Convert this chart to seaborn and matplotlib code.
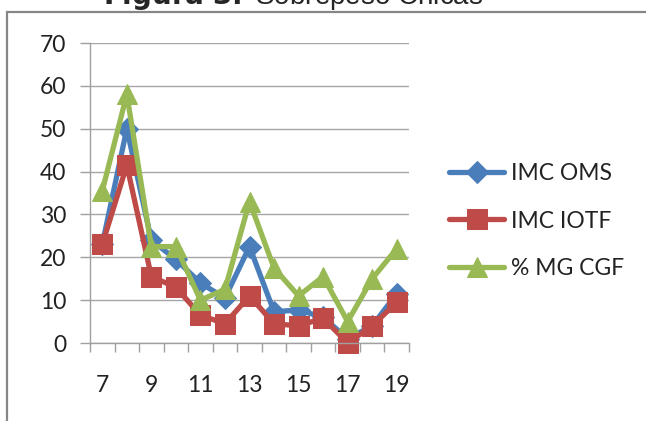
import matplotlib
matplotlib.use("Agg")
import matplotlib.pyplot as plt
import matplotlib.patches as mpatches
from matplotlib.ticker import FixedLocator, MultipleLocator
import pandas as pd
import seaborn as sns

# Data
ages = [7, 8, 9, 10, 11, 12, 13, 14, 15, 16, 17, 18, 19]
imc_oms = [23, 50, 24, 19.5, 14, 10.5, 22.5, 7.3, 7.7, 6, 1, 4, 11.5]
imc_iotf = [23, 41.5, 15.5, 13, 6.5, 4.5, 11, 4.5, 4, 5.8, 0, 4, 9.5]
mg_cgf = [35.5, 58, 22.5, 22.5, 10, 12.5, 33, 17.5, 11, 15.5, 5, 15, 22]
series_names = ["IMC OMS", "IMC IOTF", "% MG CGF"]
xtick_labels = ["7", "9", "11", "13", "15", "17", "19"]

colors = ["#4A7EBB", "#BE4B48", "#98B954"]
markers = ["D", "s", "^"]
marker_sizes = [11, 14, 15]

sns.set_style("white")
plt.rcParams['font.family'] = ['Lato', 'DejaVu Sans']

df = pd.DataFrame({"age": ages, series_names[0]: imc_oms,
                   series_names[1]: imc_iotf, series_names[2]: mg_cgf})

fig = plt.figure(figsize=(6.46, 4.21), dpi=100)
ax = fig.add_axes([90 / 646, 1 - 343 / 421, 319 / 646, 300 / 421])

for name, col, mk, ms in zip(series_names, colors, markers, marker_sizes):
    sns.lineplot(data=df, x="age", y=name, ax=ax, color=col, linewidth=3.8,
                 marker=mk, markersize=ms, markeredgecolor=col, label=name,
                 clip_on=False)

# Axis limits and ticks (category style axis)
ax.set_xlim(6.5, 19.5)
ax.set_ylim(0, 70)
ax.yaxis.set_major_locator(MultipleLocator(10))
ax.xaxis.set_major_locator(FixedLocator([int(t) for t in xtick_labels]))
ax.set_xticklabels(xtick_labels)
ax.xaxis.set_minor_locator(FixedLocator([a + 0.5 for a in [6] + ages]))
ax.set_xlabel("")
ax.set_ylabel("")

ax.grid(axis="y", color="#A6A6A6", linewidth=1.0)
ax.set_axisbelow(True)
for side in ["top", "right"]:
    ax.spines[side].set_visible(False)
for side in ["left", "bottom"]:
    ax.spines[side].set_color("#A0A0A0")
    ax.spines[side].set_linewidth(1.0)

ax.tick_params(axis="y", which="major", direction="out", length=7, width=1,
               color="#A0A0A0", left=True, pad=10, labelsize=16.5, labelcolor="#222222")
ax.tick_params(axis="x", which="major", length=0, pad=23, labelsize=16.5, labelcolor="#222222")
ax.tick_params(axis="x", which="minor", direction="out", length=6.5, width=1,
               color="#A0A0A0", bottom=True)

ax.legend(loc="center left", bbox_to_anchor=(449 / 646, 1 - 221 / 421),
          bbox_transform=fig.transFigure, frameon=False, fontsize=16.5,
          handlelength=2.4, handletextpad=0.3, labelspacing=1.15,
          borderpad=0, borderaxespad=0, labelcolor="#222222")

# Outer chart frame (top and left edge visible)
frame = mpatches.Rectangle((7 / 646, -0.1), 1.2, 1 - 12 / 421 + 0.1,
                           transform=fig.transFigure, fill=False,
                           edgecolor="#868686", linewidth=1.6, clip_on=False)
fig.patches.append(frame)

# Title, cut off at the top edge like the reference
fig.text(0.4536, 1 - 4 / 421, r"$\bf{Figura\ 3.}$ Sobrepeso Chicas", ha="center",
         va="baseline", fontsize=20, family=["Liberation Sans", "DejaVu Sans"])

fig.savefig("out.png", dpi=100)
plt.close(fig)
